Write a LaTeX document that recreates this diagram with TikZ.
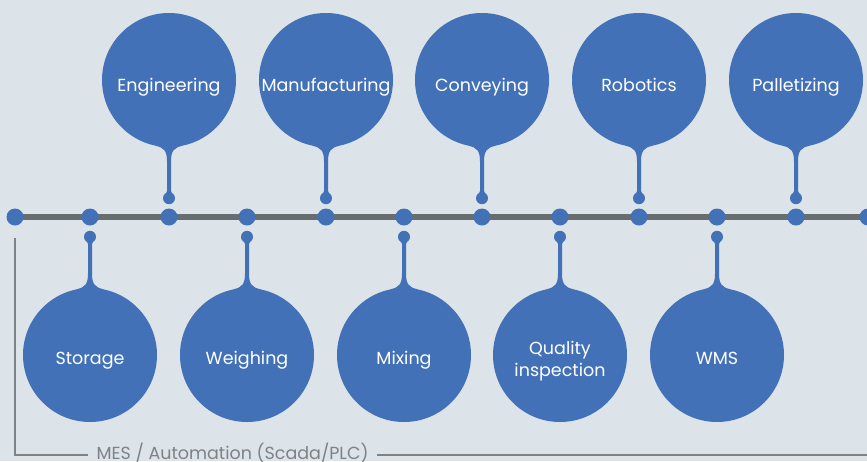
\documentclass[tikz,border=0pt]{standalone}
\usepackage{fontspec}
\setmainfont{Poppins}
\usetikzlibrary{calc}
\definecolor{bg}{HTML}{DCE3E9}
\definecolor{blu}{HTML}{4271B8}
\definecolor{tl}{HTML}{686D6F}
\definecolor{gr}{HTML}{7E8285}
\begin{document}
\begin{tikzpicture}[x=1pt,y=-1pt,
  bubble/.style={circle,fill=blu,minimum size=134pt,inner sep=0pt},
  lbl/.style={text=white,font=\fontsize{17.5}{22}\selectfont,align=center,inner sep=0pt,anchor=base},
  dot/.style={circle,fill=blu,minimum size=17pt,inner sep=0pt},
  timeline/.style={draw=tl,line width=6pt},
  bracket/.style={draw=gr,line width=1.2pt},
  mes/.style={text=gr,font=\fontsize{17.5}{21}\selectfont,inner xsep=8pt,inner ysep=0pt,anchor=base},
  drop/.pic={
    \fill[blu] (-14,-1.5) .. controls (-5,0) and (-2,4) .. (-2,14) -- (-2,46) -- (2,46) -- (2,14) .. controls (2,4) and (5,0) .. (14,-1.5) -- cycle;
    \fill[blu] (0,51) circle (6);
    \fill[blu] (-2,44) .. controls (-2,46) and (-5,48) .. (-5,51) -- (5,51) .. controls (5,48) and (2,46) .. (2,44) -- cycle;
  },
]
\fill[bg] (0,0) rectangle (867,461);
\useasboundingbox (0,0) rectangle (867,461);
\clip (0,0) rectangle (867,461);

% timeline dots
\foreach \i/\x in {0/15,1/90,2/169,3/247,4/326,5/404,6/482,7/560,8/639,9/717,10/796,11/868}
  \coordinate (c\i) at (\x,217);
\draw[timeline] (c0) -- (c11);
\foreach \i in {0,...,11}
  \node[dot] (d\i) at (c\i) {};

% top bubbles
\foreach \n/\x/\t in {t1/169/Engineering,t2/326/Manufacturing,t3/482/Conveying,t4/639/Robotics,t5/796/Palletizing}{
  \node[bubble] (\n) at (\x,80) {};
  \pic at (\n.south) {drop};
  \node[lbl] (\n l) at ($(\n.center)+(0,11.5)$) {\t};
}
% bottom bubbles
\foreach \n/\x/\t/\s in {b1/90/Storage/9,b2/247/Weighing/9,b3/404/Mixing/9,b4/560/{Quality\\inspection}/21.5,b5/717/WMS/9}{
  \node[bubble] (\n) at (\x,355) {};
  \pic[yscale=-1] at (\n.north) {drop};
  \node[lbl] (\n l) at ($(\n.center)+(0,\s)$) {\t};
}

% bracket
\coordinate (k1) at (15,238);
\coordinate (k2) at (15,455);
\coordinate (k3) at (870,455);
\node[mes] (m) at (232.5,459.5) {MES / Automation (Scada/PLC)};
\draw[bracket] (k1) -- (k2) -- (m.west |- k2);
\draw[bracket] (m.east |- k2) -- (k3);
\end{tikzpicture}
\end{document}
